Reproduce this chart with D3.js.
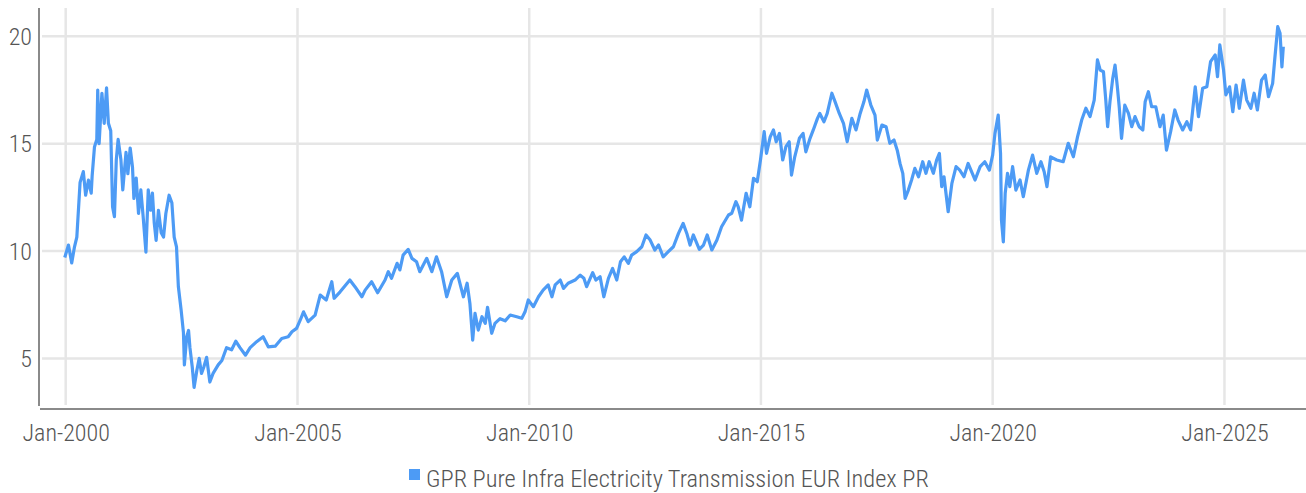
<!DOCTYPE html>
<html>
<head>
<meta charset="utf-8">
<script src="https://cdn.jsdelivr.net/npm/d3@7"></script>
<style>
  body { margin: 0; background: #fff; }
  text { font-family: "Roboto Condensed", Roboto, sans-serif; font-weight: 300; fill: #555; }
</style>
</head>
<body>
<div id="chart"></div>
<script>
// Index level (decimal years)
var dateYears = [
  1999.98, 2000.06, 2000.13, 2000.19, 2000.24, 2000.31, 2000.38, 2000.43, 2000.49, 2000.55,
  2000.57, 2000.62, 2000.67, 2000.69, 2000.72, 2000.78, 2000.83, 2000.88, 2000.92, 2000.97,
  2001.01, 2001.05, 2001.09, 2001.13, 2001.19, 2001.23, 2001.30, 2001.34, 2001.39, 2001.44,
  2001.47, 2001.52, 2001.57, 2001.62, 2001.67, 2001.73, 2001.78, 2001.83, 2001.87, 2001.91,
  2001.95, 2002.00, 2002.06, 2002.11, 2002.16, 2002.23, 2002.29, 2002.34, 2002.39, 2002.43,
  2002.49, 2002.54, 2002.56, 2002.61, 2002.65, 2002.68, 2002.73, 2002.77, 2002.83, 2002.88,
  2002.93, 2002.98, 2003.04, 2003.11, 2003.18, 2003.29, 2003.37, 2003.47, 2003.58, 2003.67,
  2003.76, 2003.88, 2003.98, 2004.08, 2004.12, 2004.26, 2004.37, 2004.52, 2004.66, 2004.80,
  2004.88, 2004.98, 2005.06, 2005.13, 2005.23, 2005.38, 2005.49, 2005.62, 2005.74, 2005.79,
  2005.92, 2006.13, 2006.24, 2006.39, 2006.46, 2006.60, 2006.73, 2006.89, 2006.96, 2007.03,
  2007.15, 2007.21, 2007.28, 2007.39, 2007.47, 2007.57, 2007.64, 2007.79, 2007.90, 2008.00,
  2008.11, 2008.22, 2008.33, 2008.45, 2008.58, 2008.66, 2008.72, 2008.78, 2008.83, 2008.90,
  2008.98, 2009.05, 2009.10, 2009.19, 2009.26, 2009.37, 2009.48, 2009.59, 2009.73, 2009.84,
  2009.91, 2009.98, 2010.09, 2010.20, 2010.30, 2010.41, 2010.49, 2010.56, 2010.67, 2010.74,
  2010.84, 2010.99, 2011.10, 2011.18, 2011.24, 2011.37, 2011.44, 2011.53, 2011.61, 2011.71,
  2011.80, 2011.89, 2011.97, 2012.05, 2012.14, 2012.21, 2012.32, 2012.43, 2012.52, 2012.61,
  2012.71, 2012.79, 2012.89, 2013.00, 2013.11, 2013.22, 2013.32, 2013.40, 2013.47, 2013.54,
  2013.67, 2013.76, 2013.84, 2013.94, 2014.05, 2014.15, 2014.30, 2014.37, 2014.46, 2014.51,
  2014.58, 2014.68, 2014.76, 2014.84, 2014.92, 2014.99, 2015.07, 2015.12, 2015.20, 2015.27,
  2015.33, 2015.40, 2015.47, 2015.54, 2015.61, 2015.66, 2015.73, 2015.83, 2015.91, 2015.97,
  2016.06, 2016.13, 2016.22, 2016.27, 2016.36, 2016.43, 2016.53, 2016.60, 2016.69, 2016.78,
  2016.86, 2016.96, 2017.05, 2017.14, 2017.22, 2017.28, 2017.37, 2017.46, 2017.51, 2017.61,
  2017.70, 2017.78, 2017.87, 2017.94, 2018.00, 2018.06, 2018.11, 2018.18, 2018.25, 2018.32,
  2018.40, 2018.49, 2018.56, 2018.63, 2018.72, 2018.79, 2018.85, 2018.90, 2018.95, 2019.04,
  2019.12, 2019.21, 2019.29, 2019.38, 2019.47, 2019.62, 2019.73, 2019.83, 2019.93, 2020.00,
  2020.05, 2020.12, 2020.17, 2020.19, 2020.23, 2020.27, 2020.32, 2020.37, 2020.43, 2020.50,
  2020.59, 2020.66, 2020.77, 2020.86, 2020.95, 2021.04, 2021.11, 2021.17, 2021.25, 2021.38,
  2021.52, 2021.63, 2021.74, 2021.83, 2021.92, 2022.01, 2022.10, 2022.19, 2022.26, 2022.32,
  2022.39, 2022.44, 2022.48, 2022.53, 2022.59, 2022.64, 2022.69, 2022.73, 2022.78, 2022.85,
  2022.93, 2023.00, 2023.07, 2023.16, 2023.24, 2023.29, 2023.36, 2023.43, 2023.52, 2023.61,
  2023.68, 2023.75, 2023.84, 2023.93, 2024.00, 2024.10, 2024.19, 2024.27, 2024.37, 2024.44,
  2024.53, 2024.62, 2024.70, 2024.80, 2024.85, 2024.90, 2024.98, 2025.03, 2025.11, 2025.18,
  2025.25, 2025.32, 2025.41, 2025.48, 2025.57, 2025.64, 2025.71, 2025.80, 2025.88, 2025.95,
  2026.04, 2026.09, 2026.15, 2026.20, 2026.24, 2026.27
];

var indexValues = [
  9.7, 10.28, 9.45, 10.2, 10.65, 13.2, 13.7, 12.6, 13.3, 12.7,
  13.5, 14.85, 15.2, 17.5, 15.0, 17.35, 15.95, 17.6, 15.95, 15.6,
  12.05, 11.6, 14.25, 15.2, 14.25, 12.85, 14.6, 13.6, 14.8, 13.9,
  12.45, 13.4, 11.75, 12.85, 11.6, 9.95, 12.85, 11.9, 12.7, 11.3,
  10.5, 11.9, 10.85, 10.65, 11.75, 12.6, 12.25, 10.65, 10.2, 8.35,
  7.25, 6.2, 4.7, 6.0, 6.3, 5.5, 4.6, 3.65, 4.45, 5.0,
  4.3, 4.6, 5.05, 3.9, 4.3, 4.7, 4.9, 5.5, 5.4, 5.8,
  5.5, 5.15, 5.5, 5.7, 5.78, 6.01, 5.54, 5.57, 5.93, 6.01,
  6.24, 6.40, 6.79, 7.17, 6.71, 7.02, 7.95, 7.72, 8.57, 7.80,
  8.10, 8.65, 8.34, 7.87, 8.18, 8.57, 8.06, 8.65, 9.04, 8.73,
  9.43, 9.12, 9.81, 10.08, 9.66, 9.50, 9.04, 9.66, 9.04, 9.73,
  9.04, 7.87, 8.65, 8.96, 7.87, 8.50, 7.56, 5.85, 7.10, 6.32,
  6.94, 6.63, 7.38, 6.17, 6.63, 6.85, 6.75, 7.02, 6.94, 6.87,
  7.17, 7.72, 7.41, 7.87, 8.18, 8.42, 7.87, 8.42, 8.65, 8.26,
  8.50, 8.65, 8.88, 8.73, 8.34, 8.99, 8.65, 8.80, 7.87, 8.73,
  9.19, 8.65, 9.50, 9.73, 9.43, 9.81, 9.97, 10.20, 10.75, 10.51,
  10.05, 10.28, 9.73, 9.97, 10.20, 10.82, 11.29, 10.82, 10.28, 10.75,
  10.08, 10.28, 10.75, 10.05, 10.51, 11.13, 11.68, 11.76, 12.30, 12.06,
  11.44, 12.69, 12.06, 13.39, 13.23, 14.24, 15.56, 14.55, 15.32, 15.64,
  15.09, 15.48, 14.24, 14.86, 15.09, 13.54, 14.39, 15.25, 15.48, 14.62,
  15.25, 15.64, 16.18, 16.41, 16.02, 16.41, 17.35, 16.95, 16.41, 15.95,
  15.09, 16.18, 15.64, 16.41, 16.95, 17.50, 16.80, 16.33, 15.17, 15.87,
  15.79, 15.02, 15.17, 14.70, 14.08, 13.62, 12.45, 12.84, 13.31, 13.85,
  13.46, 14.16, 13.62, 14.16, 13.62, 14.24, 14.55, 13.00, 13.46, 11.83,
  13.15, 13.93, 13.77, 13.46, 14.08, 13.31, 13.93, 14.16, 13.77, 14.47,
  15.48, 16.33, 14.55, 11.44, 10.43, 12.69, 13.62, 13.00, 13.93, 12.84,
  13.31, 12.53, 13.77, 14.47, 13.62, 14.16, 13.69, 13.00, 14.39, 14.24,
  14.16, 15.02, 14.39, 15.32, 16.10, 16.65, 16.26, 17.03, 18.90, 18.43,
  18.35, 17.03, 15.79, 16.95, 18.04, 18.66, 17.65, 16.72, 15.25, 16.80,
  16.41, 15.79, 16.26, 15.79, 15.64, 16.95, 17.42, 16.72, 16.72, 15.79,
  16.33, 14.70, 15.56, 16.57, 16.10, 15.64, 16.02, 15.64, 17.65, 16.26,
  17.58, 17.65, 18.82, 19.13, 18.12, 19.60, 18.43, 17.27, 17.65, 16.49,
  17.73, 16.65, 17.96, 17.03, 16.65, 17.35, 16.57, 17.96, 18.20, 17.19,
  17.81, 19.05, 20.45, 20.14, 18.58, 19.52
];

var yTicks = [5, 10, 15, 20];
var xTickYears = [2000, 2005, 2010, 2015, 2020, 2025];
var seriesName = "GPR Pure Infra Electricity Transmission EUR Index PR";

var svgWidth = 1306;
var svgHeight = 493;
var lineColor = "#4d9bf5";

// turn a decimal year into a Date
function toDate(y) {
  var yr = Math.floor(y);
  var start = new Date(yr, 0, 1), end = new Date(yr + 1, 0, 1);
  return new Date(+start + (y - yr) * (end - start));
}

var data = dateYears.map(function(d, i) {
  return { date: toDate(d), value: indexValues[i] };
});

var margin = { top: 8, right: 0, bottom: 85, left: 39 };

var svg = d3.select("#chart")
  .append("svg")
  .attr("width", svgWidth)
  .attr("height", svgHeight);

var x = d3.scaleTime()
  .domain([toDate(1999.424), toDate(2026.76)])
  .range([margin.left, svgWidth - margin.right]);

var y = d3.scaleLinear()
  .domain([2.69, 21.32])
  .range([svgHeight - margin.bottom, margin.top]);

var xTicks = xTickYears.map(function(yr) { return new Date(yr, 0, 1); });
var fmt = d3.timeFormat("%b-%Y");

// gridlines
svg.append("g")
  .selectAll("line")
  .data(yTicks)
  .enter().append("line")
  .attr("x1", margin.left + 3)
  .attr("x2", svgWidth)
  .attr("y1", d => y(d))
  .attr("y2", d => y(d))
  .attr("stroke", "#e6e6e6")
  .attr("stroke-width", 2.5);

svg.append("g")
  .selectAll("line")
  .data(xTicks)
  .enter().append("line")
  .attr("x1", d => x(d))
  .attr("x2", d => x(d))
  .attr("y1", margin.top)
  .attr("y2", svgHeight - margin.bottom - 3)
  .attr("stroke", "#e6e6e6")
  .attr("stroke-width", 2.5);

// axes
var leftAxis = svg.append("g")
  .attr("transform", `translate(${margin.left}, 0)`)
  .call(d3.axisLeft(y).tickValues(yTicks).tickSize(0).tickPadding(7));
leftAxis.select(".domain").remove();
leftAxis.selectAll("text")
  .style("font-size", "24px")
  .attr("dy", "0.34em");

var bottomAxis = svg.append("g")
  .attr("transform", `translate(0, ${svgHeight - margin.bottom})`)
  .call(d3.axisBottom(x).tickValues(xTicks).tickFormat(fmt).tickSize(0).tickPadding(16));
bottomAxis.select(".domain").remove();
bottomAxis.selectAll("text")
  .style("font-size", "24px");

svg.append("line")
  .attr("x1", margin.left).attr("x2", margin.left)
  .attr("y1", margin.top).attr("y2", svgHeight - margin.bottom - 2)
  .attr("stroke", "#8a8a8a").attr("stroke-width", 2);

svg.append("line")
  .attr("x1", margin.left + 1).attr("x2", svgWidth)
  .attr("y1", svgHeight - margin.bottom + 1).attr("y2", svgHeight - margin.bottom + 1)
  .attr("stroke", "#8a8a8a").attr("stroke-width", 2);

// series line
var drawLine = d3.line()
  .x(d => x(d.date))
  .y(d => y(d.value));

svg.append("path")
  .attr("d", drawLine(data))
  .attr("fill", "none")
  .attr("stroke", lineColor)
  .attr("stroke-width", 3.2)
  .attr("stroke-linejoin", "round");

// legend
var legend = svg.append("g").attr("transform", "translate(409, 469)");
legend.append("rect")
  .attr("width", 11).attr("height", 11)
  .attr("fill", lineColor);
legend.append("text")
  .attr("x", 17).attr("y", 18)
  .style("font-size", "24.4px")
  .text(seriesName);
</script>
</body>
</html>
